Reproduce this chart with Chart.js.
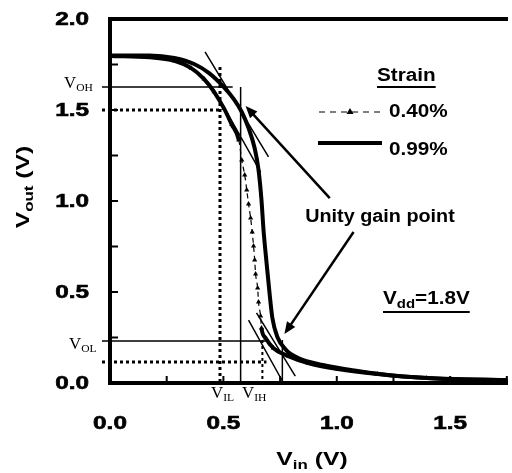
<!DOCTYPE html>
<html>
<head>
<meta charset="utf-8">
<script src="https://cdn.jsdelivr.net/npm/chart.js@4.4.0/dist/chart.umd.min.js"></script>
<style>
  html, body { margin: 0; padding: 0; background: #fff; }
</style>
</head>
<body>
<canvas id="vtcChart" width="512" height="473"></canvas>
<script>
// inverter transfer curves
const strainLabels = ['0.40%', '0.99%'];
const vin040  = [0, 0.175, 0.284, 0.358, 0.415, 0.459, 0.502, 0.537, 0.568, 0.581, 0.594, 0.603, 0.611, 0.620, 0.627, 0.633, 0.638, 0.642, 0.651, 0.655, 0.664, 0.668, 0.686, 0.720, 0.786, 0.873, 1.004, 1.179, 1.397, 1.747];
const vout040 = [1.797, 1.79, 1.77, 1.73, 1.67, 1.60, 1.51, 1.42, 1.335, 1.225, 1.143, 1.06, 0.984, 0.907, 0.83, 0.753, 0.676, 0.599, 0.522, 0.445, 0.368, 0.302, 0.247, 0.192, 0.148, 0.110, 0.077, 0.049, 0.027, 0.016];
const vin099  = [0, 0.175, 0.284, 0.371, 0.437, 0.502, 0.546, 0.581, 0.611, 0.638, 0.655, 0.668, 0.677, 0.690, 0.703, 0.716, 0.738, 0.777, 0.830, 0.939, 1.092, 1.266, 1.485, 1.747];
const vout099 = [1.80, 1.80, 1.786, 1.753, 1.703, 1.626, 1.56, 1.489, 1.40, 1.29, 1.17, 1.005, 0.84, 0.665, 0.50, 0.357, 0.253, 0.181, 0.137, 0.099, 0.066, 0.038, 0.022, 0.016];

// switching levels marked on the plot (V)
const VOH = 1.626, VOL = 0.231, VIL = 0.485, VIH = 0.576;
const VIH2 = 0.672, VX2 = 0.76, V15 = 1.5, VLOW = 0.115;
// tangent lines + arrows, [x0, y0, x1, y1] in volts
const tangents = [
  [0.419, 1.819, 0.699, 1.242],
  [0.515, 1.489, 0.664, 1.159],
  [0.611, 0.346, 0.760, 0.011],
  [0.646, 0.385, 0.817, 0.038]
];
const arrows = [
  [0.969, 1.016, 0.598, 1.522],
  [1.074, 0.830, 0.769, 0.269]
];

const toPts = (xs, ys) => xs.map((x, i) => ({ x: x, y: ys[i] }));
const FONT = '"Liberation Sans", Arial, sans-serif';
const SERIF = '"Liberation Serif", "Times New Roman", serif';

const steep = ctx => Math.abs(ctx.p1.y - ctx.p0.y) > 2.5 * Math.abs(ctx.p1.x - ctx.p0.x);

// text pieces: [string, size, dy]; drawn squeezed/stretched by sx
function richText(ctx, parts, x, y, align, sx, family, weight, heavy) {
  let w = 0;
  parts.forEach(p => { ctx.font = `${weight} ${p[1]}px ${family}`; p.w = ctx.measureText(p[0]).width; w += p.w; });
  const x0 = align === 'center' ? x - w * sx / 2 : align === 'right' ? x - w * sx : x;
  ctx.save();
  ctx.textAlign = 'left';
  ctx.textBaseline = 'middle';
  ctx.translate(x0, y);
  ctx.scale(sx, 1);
  ctx.lineWidth = heavy || 0;
  let cx = 0;
  parts.forEach(p => {
    ctx.font = `${weight} ${p[1]}px ${family}`;
    ctx.fillText(p[0], cx, p[2] || 0);
    if (heavy) ctx.strokeText(p[0], cx, p[2] || 0);
    cx += p.w;
  });
  ctx.restore();
  return w * sx;
}

function arrowLine(ctx, x0, y0, x1, y1) {
  const a = Math.atan2(y1 - y0, x1 - x0);
  const len = 12, half = 5;
  ctx.lineWidth = 2.5;
  ctx.beginPath();
  ctx.moveTo(x0, y0);
  ctx.lineTo(x1 - Math.cos(a) * len * 0.8, y1 - Math.sin(a) * len * 0.8);
  ctx.stroke();
  ctx.beginPath();
  ctx.moveTo(x1, y1);
  ctx.lineTo(x1 - Math.cos(a) * len - Math.sin(a) * half, y1 - Math.sin(a) * len + Math.cos(a) * half);
  ctx.lineTo(x1 - Math.cos(a) * len + Math.sin(a) * half, y1 - Math.sin(a) * len - Math.cos(a) * half);
  ctx.closePath();
  ctx.fill();
}

const isMajor = v => Math.abs(v * 2 - Math.round(v * 2)) < 1e-6;

const decor = {
  id: 'decor',
  afterDatasetsDraw(chart) {
    const ctx = chart.ctx;
    const xs = chart.scales.x, ys = chart.scales.y;
    const a = chart.chartArea;
    const px = v => xs.getPixelForValue(v), py = v => ys.getPixelForValue(v);
    const xl = a.left - 8;
    ctx.save();
    ctx.strokeStyle = '#000';
    ctx.fillStyle = '#000';

    // solid level lines
    ctx.lineWidth = 1.5;
    ctx.beginPath();
    ctx.moveTo(xl, py(VOH)); ctx.lineTo(px(0.541), py(VOH));
    ctx.moveTo(px(VIH), py(VOH)); ctx.lineTo(px(VIH), a.bottom);
    ctx.moveTo(xl, py(VOL)); ctx.lineTo(px(0.699), py(VOL));
    ctx.moveTo(px(VX2), py(0.236)); ctx.lineTo(px(VX2), a.bottom);
    tangents.forEach(t => { ctx.moveTo(px(t[0]), py(t[1])); ctx.lineTo(px(t[2]), py(t[3])); });
    ctx.stroke();

    // dotted lines
    ctx.lineWidth = 3;
    ctx.setLineDash([3, 3]);
    ctx.beginPath();
    ctx.moveTo(xl, py(V15)); ctx.lineTo(px(VIL), py(V15));
    ctx.moveTo(px(VIL), py(1.736)); ctx.lineTo(px(VIL), a.bottom);
    ctx.moveTo(xl, py(VLOW)); ctx.lineTo(px(0.69), py(VLOW));
    ctx.stroke();
    ctx.lineWidth = 2;
    ctx.beginPath();
    ctx.moveTo(px(VIH2), py(0.236)); ctx.lineTo(px(VIH2), a.bottom);
    ctx.stroke();
    ctx.setLineDash([]);

    arrows.forEach(t => arrowLine(ctx, px(t[0]), py(t[1]), px(t[2]), py(t[3])));

    // frame: left, bottom, top
    ctx.lineWidth = 4;
    ctx.beginPath();
    ctx.moveTo(a.left, a.top); ctx.lineTo(a.left, a.bottom);
    ctx.moveTo(a.left - 2, a.bottom); ctx.lineTo(a.right, a.bottom);
    ctx.moveTo(a.left - 2, a.top); ctx.lineTo(a.right, a.top);
    ctx.stroke();

    // inward ticks
    ctx.lineWidth = 2;
    ctx.beginPath();
    xs.ticks.forEach(t => {
      if (t.value <= 0 || t.value >= xs.max) return;
      ctx.moveTo(px(t.value), a.bottom); ctx.lineTo(px(t.value), a.bottom - 7);
    });
    ys.ticks.forEach(t => {
      if (t.value <= 0 || t.value >= ys.max) return;
      ctx.moveTo(a.left, py(t.value)); ctx.lineTo(a.left + 8, py(t.value));
    });
    ctx.stroke();

    // tick labels (wide bold face as in the figure)
    xs.ticks.forEach(t => {
      if (!isMajor(t.value)) return;
      richText(ctx, [[t.value.toFixed(1), 18]], px(t.value), a.bottom + 41, 'center', 1.35, FONT, 'bold', 0.6);
    });
    ys.ticks.forEach(t => {
      if (!isMajor(t.value)) return;
      richText(ctx, [[t.value.toFixed(1), 18]], a.left - 21, py(t.value) + 1, 'right', 1.35, FONT, 'bold', 0.6);
    });

    // level labels
    richText(ctx, [['V', 16], ['OH', 11, 4]], 64, py(VOH) - 3, 'left', 1.05, SERIF, 'normal');
    richText(ctx, [['V', 16], ['OL', 11, 4]], 69, py(VOL) + 4, 'left', 1.05, SERIF, 'normal');
    richText(ctx, [['V', 16], ['IL', 11, 4]], 211, a.bottom + 11, 'left', 1.05, SERIF, 'normal');
    richText(ctx, [['V', 16], ['IH', 11, 4]], 242, a.bottom + 11, 'left', 1.05, SERIF, 'normal');

    // legend block
    const sw = richText(ctx, [['Strain', 18]], 377, 76, 'left', 1.15, FONT, 'bold');
    ctx.lineWidth = 2;
    ctx.beginPath(); ctx.moveTo(377, 87); ctx.lineTo(377 + sw, 87); ctx.stroke();
    richText(ctx, [[strainLabels[0], 18]], 389, 112, 'left', 1.15, FONT, 'bold');
    richText(ctx, [[strainLabels[1], 18]], 389, 150, 'left', 1.15, FONT, 'bold');
    ctx.lineWidth = 1.2;
    ctx.setLineDash([6, 5]);
    ctx.beginPath(); ctx.moveTo(319, 112); ctx.lineTo(382, 112); ctx.stroke();
    ctx.setLineDash([]);
    ctx.beginPath(); ctx.moveTo(350, 108); ctx.lineTo(353.5, 114); ctx.lineTo(346.5, 114); ctx.closePath(); ctx.fill();
    ctx.lineWidth = 4;
    ctx.beginPath(); ctx.moveTo(318, 143); ctx.lineTo(382, 143); ctx.stroke();

    richText(ctx, [['Unity gain point', 18]], 380, 217, 'center', 1.1, FONT, 'bold');

    const vw = richText(ctx, [['V', 18], ['dd', 13, 5], ['=1.8V', 18]], 383, 299, 'left', 1.15, FONT, 'bold');
    ctx.lineWidth = 2;
    ctx.beginPath(); ctx.moveTo(383, 312); ctx.lineTo(383 + vw, 312); ctx.stroke();

    // axis titles
    richText(ctx, [['V', 19], ['in', 13, 5], [' (V)', 19]], 312, 460, 'center', 1.3, FONT, 'bold');
    ctx.translate(24, 187);
    ctx.rotate(-Math.PI / 2);
    richText(ctx, [['V', 19], ['out', 13, 5], [' (V)', 19]], 0, 0, 'center', 1.3, FONT, 'bold');
    ctx.restore();
  }
};

const zeroPad = s => { s.paddingLeft = 0; s.paddingRight = 0; s.paddingTop = 0; s.paddingBottom = 0; };

new Chart(document.getElementById('vtcChart'), {
  type: 'line',
  data: {
    datasets: [
      {
        label: strainLabels[0],
        data: toPts(vin040, vout040),
        borderColor: '#000',
        backgroundColor: '#000',
        borderWidth: 1.2,
        pointStyle: 'triangle',
        pointRadius: 3,
        pointBorderWidth: 0,
        cubicInterpolationMode: 'monotone',
        segment: {
          borderWidth: ctx => steep(ctx) ? 1.2 : 4,
          borderDash: ctx => steep(ctx) ? [5, 4] : []
        }
      },
      {
        label: strainLabels[1],
        data: toPts(vin099, vout099),
        borderColor: '#000',
        borderWidth: 4,
        pointRadius: 0,
        cubicInterpolationMode: 'monotone'
      }
    ]
  },
  options: {
    responsive: false,
    animation: false,
    layout: { padding: { top: 19, right: 0, left: 0, bottom: 0 } },
    plugins: { legend: { display: false }, tooltip: { enabled: false } },
    scales: {
      x: {
        type: 'linear', min: 0, max: 1.755,
        grid: { display: false, drawTicks: false },
        border: { display: false },
        ticks: { display: false, stepSize: 0.25, includeBounds: false, autoSkip: false },
        afterFit: s => { s.height = 90; zeroPad(s); }
      },
      y: {
        min: 0, max: 2,
        grid: { display: false, drawTicks: false },
        border: { display: false },
        ticks: { display: false, stepSize: 0.25, autoSkip: false },
        afterFit: s => { s.width = 110; zeroPad(s); }
      }
    }
  },
  plugins: [decor]
});
</script>
</body>
</html>
